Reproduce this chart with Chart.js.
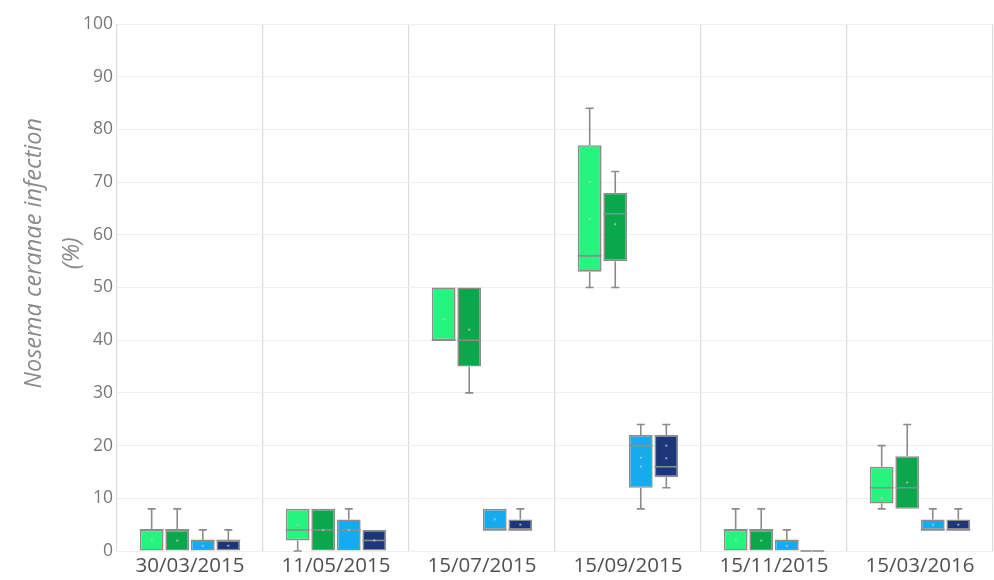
<!DOCTYPE html>
<html>
<head>
<meta charset="utf-8">
<script src="https://cdn.jsdelivr.net/npm/chart.js@4/dist/chart.umd.min.js"></script>
<style>
  html, body { margin: 0; padding: 0; background: #ffffff; }
  #wrap { position: relative; width: 994px; height: 580px; }
</style>
</head>
<body>
<div id="wrap"><canvas id="c" width="994" height="580"></canvas></div>
<script>
// Sampling dates
const dates = ['30/03/2015', '11/05/2015', '15/07/2015', '15/09/2015', '15/11/2015', '15/03/2016'];

// Y axis ticks (percent)
const yTicks = [0, 10, 20, 30, 40, 50, 60, 70, 80, 90, 100];

// Box statistics per group: whisker low, Q1, median, Q3, whisker high, inner points
const g1Min = [0, 0, 40, 50, 0, 8];
const g1Q1  = [0, 2, 40, 53, 0, 9];
const g1Med = [4, 4, 40, 56, 4, 12];
const g1Q3  = [4, 8, 50, 77, 4, 16];
const g1Max = [8, 8, 50, 84, 8, 20];
const g1Pts = [[2], [5], [44], [70, 63], [2], [10]];

const g2Min = [0, 0, 30, 50, 0, 8];
const g2Q1  = [0, 0, 35, 55, 0, 8];
const g2Med = [4, 4, 40, 64, 4, 12];
const g2Q3  = [4, 8, 50, 68, 4, 18];
const g2Max = [8, 8, 50, 72, 8, 24];
const g2Pts = [[2], [4], [42], [62], [2], [13]];

const g3Min = [0, 0, 4, 8, 0, 4];
const g3Q1  = [0, 0, 4, 12, 0, 4];
const g3Med = [2, 4, 4, 20, 2, 4];
const g3Q3  = [2, 6, 8, 22, 2, 6];
const g3Max = [4, 8, 8, 24, 4, 8];
const g3Pts = [[1], [4], [6], [17.7, 16], [1], [5]];

const g4Min = [0, 0, 4, 12, 0, 4];
const g4Q1  = [0, 0, 4, 14, 0, 4];
const g4Med = [2, 2, 4, 16, 0, 4];
const g4Q3  = [2, 4, 6, 22, 0, 6];
const g4Max = [4, 4, 8, 24, 0, 8];
const g4Pts = [[1], [2], [5], [20, 17.6], [0], [5]];

const groupColors = ['#25f47e', '#0aa84a', '#16aaef', '#1b377a'];

const groups = [
  { min: g1Min, q1: g1Q1, med: g1Med, q3: g1Q3, max: g1Max, pts: g1Pts },
  { min: g2Min, q1: g2Q1, med: g2Med, q3: g2Q3, max: g2Max, pts: g2Pts },
  { min: g3Min, q1: g3Q1, med: g3Med, q3: g3Q3, max: g3Max, pts: g3Pts },
  { min: g4Min, q1: g4Q1, med: g4Med, q3: g4Q3, max: g4Max, pts: g4Pts }
];

const LINE = '#8c8c8c';

// Whiskers, medians and inner points drawn on top of the floating-bar boxes
const boxExtras = {
  id: 'boxExtras',
  afterDatasetsDraw(chart) {
    const ctx = chart.ctx;
    const y = chart.scales.y;
    ctx.save();
    groups.forEach((g, d) => {
      const meta = chart.getDatasetMeta(d);
      meta.data.forEach((bar, i) => {
        const x = bar.x;
        const half = bar.width / 2;
        const cap = 4;
        const pMin = y.getPixelForValue(g.min[i]);
        const pQ1 = y.getPixelForValue(g.q1[i]);
        const pMed = y.getPixelForValue(g.med[i]);
        const pQ3 = y.getPixelForValue(g.q3[i]);
        const pMax = y.getPixelForValue(g.max[i]);
        ctx.strokeStyle = LINE;
        ctx.lineWidth = 1.6;
        ctx.beginPath();
        if (g.max[i] > g.q3[i]) {
          ctx.moveTo(x, pQ3); ctx.lineTo(x, pMax);
          ctx.moveTo(x - cap, pMax); ctx.lineTo(x + cap, pMax);
        }
        if (g.min[i] < g.q1[i]) {
          ctx.moveTo(x, pQ1); ctx.lineTo(x, pMin);
          ctx.moveTo(x - cap, pMin); ctx.lineTo(x + cap, pMin);
        }
        ctx.moveTo(x - half, pMed); ctx.lineTo(x + half, pMed);
        ctx.stroke();
        ctx.fillStyle = 'rgba(200,200,200,0.75)';
        g.pts[i].forEach(v => {
          const py = y.getPixelForValue(v);
          ctx.fillRect(x - 1, py - 1, 2, 2);
        });
      });
    });
    ctx.restore();
  }
};

// Two-line rotated axis title
const yTitle = {
  id: 'yTitle',
  afterDraw(chart) {
    const ctx = chart.ctx;
    const a = chart.chartArea;
    const cy = a.top + (a.bottom - a.top) * 0.435;
    const lines = [['Nosema ceranae infection', 34], ['(%)', 72]];
    lines.forEach(([txt, x]) => {
      ctx.save();
      ctx.fillStyle = '#8a8a8a';
      ctx.font = 'italic 23.5px "Open Sans", sans-serif';
      ctx.textAlign = 'center';
      ctx.textBaseline = 'middle';
      ctx.translate(x, cy);
      ctx.rotate(-Math.PI / 2);
      ctx.fillText(txt, 0, 0);
      ctx.restore();
    });
  }
};

new Chart(document.getElementById('c'), {
  type: 'bar',
  data: {
    labels: dates,
    datasets: groups.map((g, d) => ({
      data: g.q1.map((v, i) => [v, g.q3[i]]),
      backgroundColor: groupColors[d],
      borderColor: LINE,
      borderWidth: 1.6,
      borderSkipped: false,
      categoryPercentage: 0.7,
      barPercentage: 0.93
    }))
  },
  options: {
    responsive: false,
    animation: false,
    layout: { padding: { top: 24, right: 1, left: 0, bottom: 0 } },
    plugins: { legend: { display: false }, tooltip: { enabled: false } },
    scales: {
      x: {
        offset: true,
        grid: { color: '#dcdcdc', lineWidth: 1.2, offset: true, drawTicks: false },
        border: { display: false },
        ticks: { color: '#505050', font: { family: '"Open Sans", sans-serif', size: 20.5 }, padding: 3 },
        afterFit(s) { s.height = 29; }
      },
      y: {
        min: 0,
        max: 100,
        afterBuildTicks(s) { s.ticks = yTicks.map(v => ({ value: v })); },
        grid: { color: '#efefef', lineWidth: 1, drawTicks: false },
        border: { display: false },
        ticks: { color: '#787878', font: { family: '"Open Sans", sans-serif', size: 17.5 }, padding: 4 },
        afterFit(s) { s.width = 117; }
      }
    }
  },
  plugins: [boxExtras, yTitle]
});
</script>
</body>
</html>
